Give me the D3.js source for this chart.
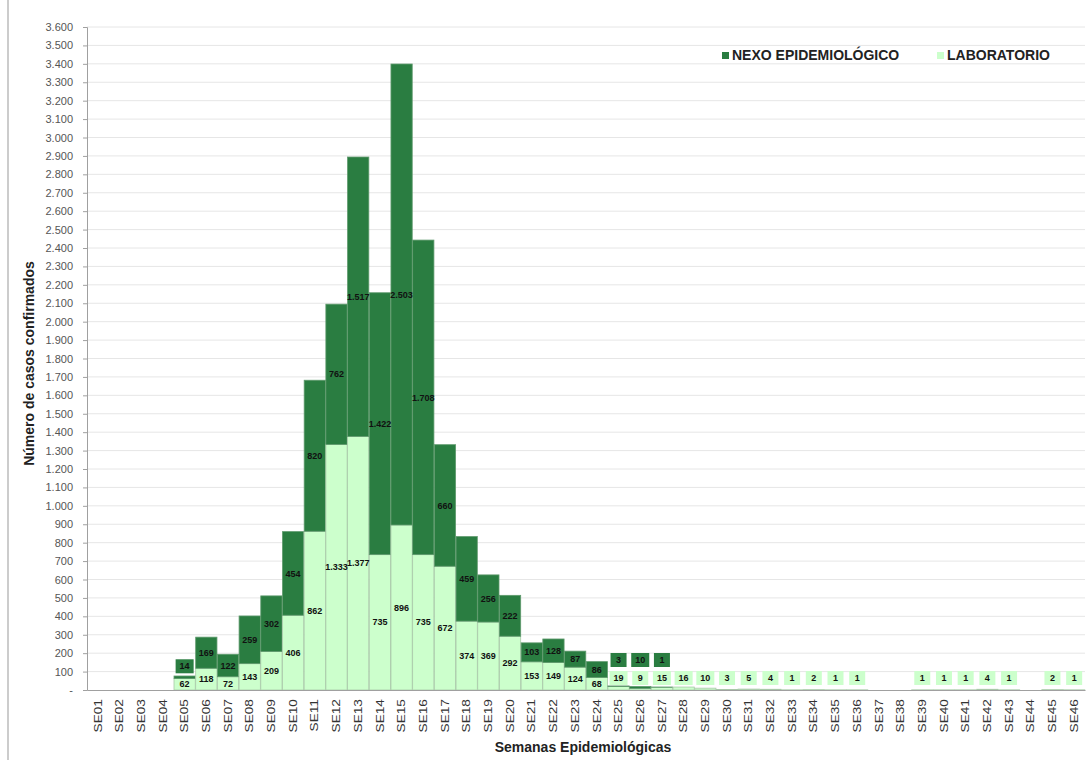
<!DOCTYPE html>
<html><head><meta charset="utf-8">
<script src="https://cdn.jsdelivr.net/npm/d3@7"></script>
<style>body{margin:0;background:#fff;font-family:"Liberation Sans",Arial,sans-serif}</style>
</head><body><svg id="c" width="1089" height="760"></svg>
<script>
const weeks = ["SE01","SE02","SE03","SE04","SE05","SE06","SE07","SE08","SE09","SE10","SE11","SE12","SE13","SE14","SE15","SE16","SE17","SE18","SE19","SE20","SE21","SE22","SE23","SE24","SE25","SE26","SE27","SE28","SE29","SE30","SE31","SE32","SE33","SE34","SE35","SE36","SE37","SE38","SE39","SE40","SE41","SE42","SE43","SE44","SE45","SE46"];
const laboratorio = [0,0,0,0,62,118,72,143,209,406,862,1333,1377,735,896,735,672,374,369,292,153,149,124,68,19,9,15,16,10,3,5,4,1,2,1,1,0,0,1,1,1,4,1,0,2,1];
const nexo = [0,0,0,0,14,169,122,259,302,454,820,762,1517,1422,2503,1708,660,459,256,222,103,128,87,86,3,10,1,0,0,0,0,0,0,0,0,0,0,0,0,0,0,0,0,0,0,0];
const seriesNames = ["NEXO EPIDEMIOLÓGICO","LABORATORIO"];
const yTicks = d3.range(0, 3601, 100);

const colDark = "#2a7d41", colLight = "#ccffcc";
const svg = d3.select("#c");
const m = {l:87, r:1085, t:27, b:690};
const x = d3.scaleBand().domain(weeks).range([m.l, m.r]).paddingInner(0.02).paddingOuter(0.01);
const y = d3.scaleLinear().domain([0,3600]).range([m.b, m.t]);
const fmt = v => v === 0 ? "-" : d3.format(",")(v).replace(/,/g, ".");

// outer border line
svg.append("line").attr("x1",8).attr("x2",8).attr("y1",0).attr("y2",760).attr("stroke","#cccccc").attr("stroke-width",2);

// gridlines
svg.append("g").selectAll("line").data(yTicks.filter(d=>d>0)).join("line")
  .attr("x1",m.l).attr("x2",m.r).attr("y1",d=>y(d)).attr("y2",d=>y(d))
  .attr("stroke","#e6e6e6").attr("stroke-width",1);

// y axis
const ya = svg.append("g").attr("transform",`translate(${m.l},0)`)
  .call(d3.axisLeft(y).tickValues(yTicks).tickFormat(fmt).tickSize(4).tickPadding(10));
ya.select(".domain").attr("stroke","#a0a0a0");
ya.selectAll(".tick line").attr("stroke","#a0a0a0");
ya.selectAll("text").attr("font-family","Liberation Sans, Arial").attr("font-size",11).attr("fill","#555");

// bars
const rows = weeks.map((w,i)=>({w, lab:laboratorio[i], nex:nexo[i]}));
const g = svg.append("g");
rows.forEach(r=>{
  if (r.lab>0) g.append("rect").attr("x",x(r.w)).attr("width",x.bandwidth())
    .attr("y",y(r.lab)).attr("height",y(0)-y(r.lab)).attr("fill",colLight).attr("stroke","#a8c8a8").attr("stroke-width",0.8);
  if (r.nex>0) g.append("rect").attr("x",x(r.w)).attr("width",x.bandwidth())
    .attr("y",y(r.lab+r.nex)).attr("height",y(r.lab)-y(r.lab+r.nex)).attr("fill",colDark).attr("stroke","#5f9a6d").attr("stroke-width",0.8);
});

// x axis
const xa = svg.append("g").attr("transform",`translate(0,${m.b})`).call(d3.axisBottom(x).tickSize(0).tickPadding(0));
xa.select(".domain").attr("stroke","#a0a0a0");
xa.selectAll("text").attr("font-family","Liberation Sans, Arial").attr("font-size",10.5).attr("fill","#333")
  .attr("transform","rotate(-90) scale(1.3,1)").attr("text-anchor","end").attr("dx","-7").attr("dy","0.35em").attr("x",0).attr("y",0);

// labels
const lg = svg.append("g").attr("font-family","Liberation Sans, Arial").attr("font-size",9).attr("font-weight","bold");
function label(cx, cy, txt, fill, boxed){
  const t = lg.append("text").attr("x",cx).attr("y",cy).attr("dy","0.35em").attr("text-anchor","middle").text(txt).attr("fill","#111");
  if (boxed){
    const bb = t.node().getBBox();
    lg.insert("rect", () => t.node()).attr("x",Math.min(bb.x-4, cx-8)).attr("y",cy-7)
      .attr("width",Math.max(bb.width+8,16)).attr("height",14).attr("fill",fill);
  }
}
rows.forEach(r=>{
  const cx = x(r.w)+x.bandwidth()/2;
  let ly = null;
  if (r.lab>0){
    const h = y(0)-y(r.lab);
    const small = h<10;
    ly = small ? y(0)-12 : (y(0)+y(r.lab))/2;
    label(cx, ly, fmt(r.lab), colLight, small);
  }
  if (r.nex>0){
    const h = y(r.lab)-y(r.lab+r.nex);
    const c = (y(r.lab)+y(r.lab+r.nex))/2;
    const small = h<12;
    label(cx, small ? Math.min(c, ly-18) : c, fmt(r.nex), colDark, small);
  }
});

// axis titles
svg.append("text").attr("x",(m.l+m.r)/2 - 3).attr("y",752).attr("text-anchor","middle")
  .attr("font-family","Liberation Sans, Arial").attr("font-size",14).attr("font-weight","bold").attr("fill","#222").text("Semanas Epidemiológicas");
svg.append("text").attr("transform",`translate(34,${(m.t+m.b)/2+5}) rotate(-90)`).attr("text-anchor","middle")
  .attr("font-family","Liberation Sans, Arial").attr("font-size",14).attr("font-weight","bold").attr("fill","#222").text("Número de casos confirmados");

// legend
const leg = svg.append("g").attr("font-family","Liberation Sans, Arial").attr("font-size",14).attr("font-weight","bold").attr("fill","#222");
[[seriesNames[0], colDark, 722],[seriesNames[1], colLight, 937]].forEach(([n,c,lx])=>{
  leg.append("rect").attr("x",lx).attr("y",52).attr("width",7).attr("height",7).attr("fill",c);
  leg.append("text").attr("x",lx+10).attr("y",55.5).attr("dy","0.35em").text(n);
});
</script></body></html>
